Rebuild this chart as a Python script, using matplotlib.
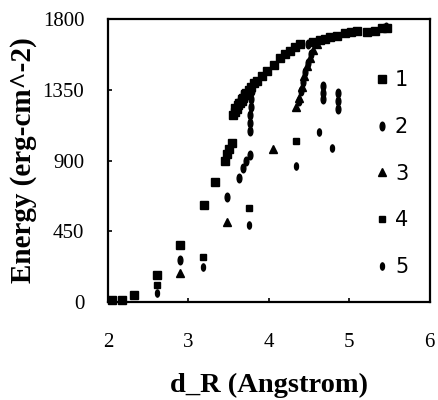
import matplotlib
matplotlib.use("Agg")
import matplotlib.pyplot as plt
from matplotlib.path import Path
from matplotlib.transforms import Affine2D

# series 1 - large squares
s1_x = [2.05, 2.18, 2.32, 2.61, 2.89, 3.19, 3.33, 3.45, 3.48, 3.51, 3.54,
        3.56, 3.58, 3.60, 3.62, 3.64, 3.66, 3.68, 3.70, 3.72, 3.75, 3.78, 3.81,
        3.85, 3.92, 3.98, 4.06, 4.14, 4.20, 4.26, 4.32, 4.39, 4.55, 4.63, 4.70,
        4.76, 4.85, 4.94, 5.02, 5.09, 5.22, 5.32, 5.40, 5.47]
s1_y = [10, 12, 45, 171, 361, 620, 765, 900, 940, 975, 1010,
        1190, 1210, 1230, 1250, 1265, 1280, 1300, 1315, 1330, 1350, 1370, 1390,
        1407, 1440, 1470, 1510, 1553, 1575, 1597, 1620, 1641, 1655, 1665, 1675,
        1683, 1695, 1711, 1718, 1724, 1715, 1724, 1740, 1745]

# series 2 - large ellipses
s2_x = [2.89, 3.48, 3.63, 3.68, 3.72, 3.76, 3.76, 3.765, 3.77, 3.775, 3.78,
        3.785, 3.79, 4.38, 4.40, 4.43, 4.45, 4.48, 4.52, 4.48, 4.67, 4.67,
        4.67, 4.86, 4.86, 4.86, 5.45]
s2_y = [266, 665, 790, 850, 895, 935, 1090, 1140, 1190, 1240, 1290,
        1340, 1375, 1280, 1340, 1400, 1460, 1520, 1580, 1641, 1290, 1330,
        1375, 1230, 1280, 1330, 1750]

# series 3 - triangles
s3_x = [2.89, 3.48, 4.05, 4.34, 4.37, 4.41, 4.44, 4.47, 4.51, 4.55, 4.60]
s3_y = [184, 507, 975, 1240, 1300, 1370, 1440, 1500, 1555, 1600, 1640]

# series 4 - small squares
s4_x = [2.61, 3.18, 3.75, 4.34, 3.57, 3.61, 3.65, 3.69]
s4_y = [105, 285, 596, 1027, 1240, 1270, 1300, 1330]

# series 5 - small ellipses
s5_x = [2.61, 3.18, 3.75, 4.34, 4.62, 4.78]
s5_y = [60, 220, 488, 868, 1084, 982]

labels = ['1', '2', '3', '4', '5']

ellipse = Path.unit_circle().transformed(Affine2D().scale(0.55, 1.0))

fig = plt.figure(figsize=(4.39, 4.0), dpi=100)
ax = fig.add_axes([0.246, 0.245, 0.733, 0.7075])

kw = dict(linestyle='none', color='black', clip_on=False)
ax.plot(s1_x, s1_y, marker='s', markersize=5.8, label=labels[0], **kw)
ax.plot(s2_x, s2_y, marker=ellipse, markersize=6.2, label=labels[1], **kw)
ax.plot(s3_x, s3_y, marker='^', markersize=6.2, label=labels[2], **kw)
ax.plot(s4_x, s4_y, marker='s', markersize=4, label=labels[3], **kw)
ax.plot(s5_x, s5_y, marker=ellipse, markersize=5.2, label=labels[4], **kw)

ax.set_xlim(2, 6)
ax.set_ylim(0, 1800)
ax.set_xticks([2, 3, 4, 5, 6])
ax.set_yticks([0, 450, 900, 1350, 1800])
ax.tick_params(direction='in', length=3, width=1.2, labelsize=15, pad=17)
ax.tick_params(axis='x', pad=22)
for lab in ax.get_xticklabels() + ax.get_yticklabels():
    lab.set_family('Liberation Serif')
for sp in ax.spines.values():
    sp.set_linewidth(1.6)

ax.set_xlabel('d_R (Angstrom)', family='Liberation Serif', fontweight='bold',
              fontsize=20.5, labelpad=15)
ax.set_ylabel('Energy (erg-cm^-2)', family='Liberation Serif', fontweight='bold',
              fontsize=21, labelpad=4)

ax.legend(loc='upper left', bbox_to_anchor=(0.775, 0.885), frameon=False,
          handlelength=0.6, handletextpad=0.3, labelspacing=1.28,
          prop={'family': ['Liberation Sans Narrow', 'DejaVu Sans'], 'size': 15})

fig.savefig('out.png', dpi=100)
